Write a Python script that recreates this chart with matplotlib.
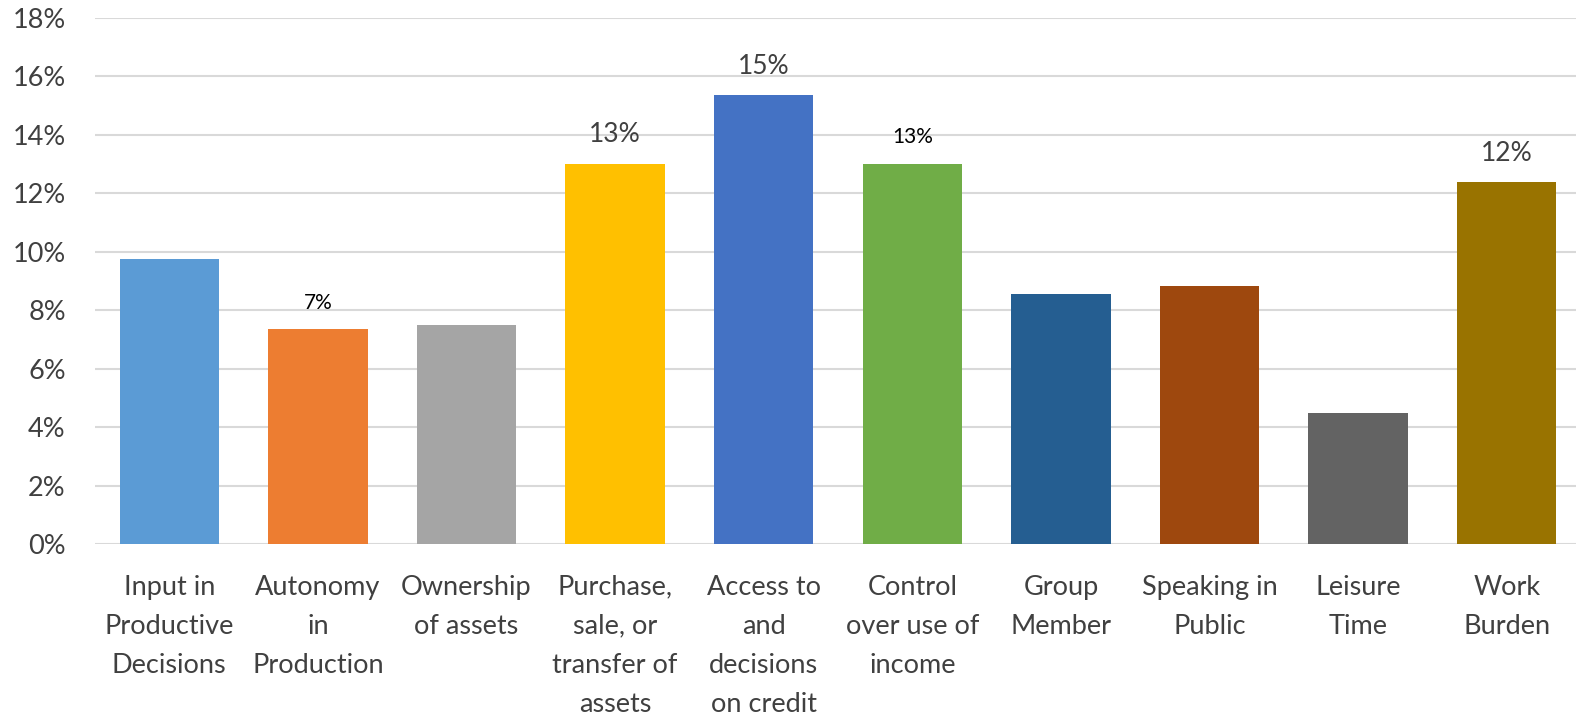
import matplotlib.pyplot as plt
import matplotlib as mpl
import numpy as np

# %%
categories = ['Input in\nProductive\nDecisions', 'Autonomy\nin\nProduction', 'Ownership\nof assets',
              'Purchase,\nsale, or\ntransfer of\nassets', 'Access to\nand\ndecisions\non credit',
              'Control\nover use of\nincome', 'Group\nMember', 'Speaking in\nPublic',
              'Leisure\nTime', 'Work\nBurden']
values = [9.75, 7.35, 7.5, 13.0, 15.35, 13.0, 8.57, 8.83, 4.48, 12.38]
colors = ['#5B9BD5', '#ED7D31', '#A5A5A5', '#FFC000', '#4472C4',
          '#70AD47', '#255E91', '#9E480E', '#636363', '#997300']
# which bars get a data label, and its colour/size
labels = {1: ('7%', 'black', 15), 3: ('13%', '#404040', 19), 4: ('15%', '#404040', 19),
          5: ('13%', 'black', 15), 9: ('12%', '#404040', 19)}
yticks = list(range(0, 19, 2))

# %%
mpl.rc('font', family=['Lato', 'DejaVu Sans'])
fig = plt.figure(figsize=(15.76, 7.2), dpi=100)
ax = fig.add_axes([95/1576, 176/720, 1486/1576, 526/720])

x = np.arange(len(values))
ax.bar(x, values, width=0.67, color=colors, zorder=3)

for i, (txt, c, fs) in labels.items():
    ax.annotate(txt, (x[i], values[i]), xytext=(0, 12), textcoords='offset points',
                ha='center', va='bottom', fontsize=fs, color=c)

ax.set_xlim(-0.5, len(values) - 0.5)
ax.set_ylim(0, 18)
ax.set_yticks(yticks)
ax.set_yticklabels([f'{t}%' for t in yticks], fontsize=19.5, color='#404040')
ax.set_xticks(x)
ax.set_xticklabels(categories, fontsize=19.5, color='#404040', linespacing=1.7)
ax.tick_params(axis='both', length=0)
ax.tick_params(axis='x', pad=22)
ax.tick_params(axis='y', pad=21)

ax.grid(axis='y', color='#D9D9D9', linewidth=1.5, zorder=0)
for s in ax.spines.values():
    s.set_visible(False)

plt.savefig('out.png', dpi=100)
